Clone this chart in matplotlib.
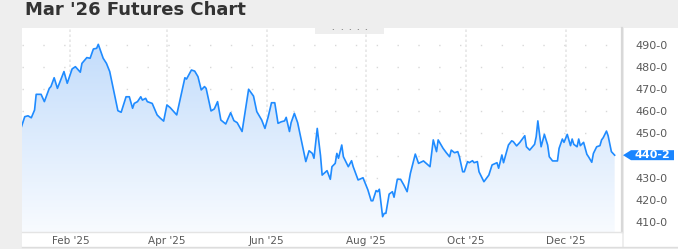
import matplotlib
matplotlib.use('Agg')
import matplotlib.pyplot as plt
import matplotlib.dates as mdates
from matplotlib.patches import Rectangle, Polygon
from matplotlib.colors import LinearSegmentedColormap
from matplotlib.ticker import FuncFormatter
import numpy as np
import pandas as pd

title = "Mar '26 Futures Chart"

# trading days (day of year 2025) and settle prices
day_of_year = [2, 4, 6, 8, 10, 11, 14, 16, 19, 20, 22, 24, 28, 30, 33, 35, 38, 39, 42, 44,
               46, 48, 49, 52, 54, 56, 59, 61, 63, 66, 68, 70, 71, 73, 75, 76, 78, 79, 82, 85,
               87, 89, 91, 93, 97, 99, 102, 103, 106, 108, 110, 112, 114, 115, 118, 120, 122, 124, 127, 130,
               132, 134, 137, 141, 144, 146, 149, 151, 153, 155, 157, 159, 161, 163, 164, 166, 167, 169, 171, 173,
               176, 178, 180, 181, 183, 185, 186, 189, 191, 192, 194, 195, 196, 198, 199, 202, 204, 205, 208, 211,
               214, 216, 217, 219, 220, 221, 223, 224, 225, 227, 229, 230, 232, 234, 236, 238, 240, 243, 245, 248,
               252, 254, 256, 257, 260, 262, 264, 265, 267, 269, 270, 272, 273, 275, 276, 278, 279, 281, 282, 285,
               288, 290, 293, 294, 296, 297, 300, 302, 303, 305, 307, 310, 311, 313, 316, 317, 318, 320, 322, 324,
               325, 327, 330, 331, 333, 334, 336, 338, 339, 340, 342, 343, 344, 346, 348, 349, 351, 352, 354, 356,
               357, 358, 360, 361, 363, 365]
price = [453.1, 457.6, 458.0, 457.1, 460.6, 467.7, 467.7, 464.4, 470.4, 471.2, 475.2, 470.4, 478.0, 472.7, 479.2, 480.2, 477.7, 481.7, 484.3, 484.0,
         488.2, 488.5, 490.3, 484.0, 481.7, 478.0, 467.4, 460.3, 459.6, 466.6, 466.6, 461.4, 463.6, 464.4, 466.6, 465.1, 465.9, 464.4, 463.6, 458.4,
         456.9, 455.6, 462.9, 461.7, 458.4, 465.1, 475.2, 474.6, 478.7, 478.2, 475.7, 469.7, 471.2, 470.4, 460.2, 461.1, 464.4, 456.1, 454.3, 459.4,
         455.8, 454.9, 450.9, 470.0, 466.9, 459.9, 456.1, 452.3, 457.6, 463.9, 463.9, 454.6, 455.3, 455.7, 457.3, 450.9, 454.9, 459.1, 454.9, 447.8,
         437.3, 442.2, 441.0, 438.8, 452.3, 440.0, 431.2, 433.2, 429.3, 435.0, 436.5, 441.0, 438.8, 444.8, 439.5, 435.0, 437.7, 435.0, 429.0, 430.0,
         424.5, 419.6, 419.6, 424.2, 423.7, 424.8, 412.4, 413.9, 413.9, 422.6, 423.7, 421.2, 429.3, 429.3, 426.7, 423.7, 432.0, 440.7, 436.5, 437.6,
         435.0, 447.1, 441.8, 447.1, 443.3, 441.3, 439.5, 442.5, 441.3, 441.8, 439.5, 432.7, 432.7, 437.3, 436.8, 437.7, 436.8, 437.3, 432.7, 428.2,
         431.2, 435.8, 436.8, 434.3, 440.3, 436.8, 444.8, 446.7, 446.3, 444.4, 446.0, 449.0, 444.0, 442.5, 445.1, 448.6, 455.7, 444.0, 449.6, 444.8,
         439.5, 437.6, 437.6, 443.3, 447.5, 446.0, 449.6, 444.5, 447.5, 445.1, 444.0, 447.5, 444.5, 446.0, 440.6, 439.5, 437.0, 441.0, 444.0, 444.5,
         447.1, 448.1, 451.1, 449.0, 441.8, 440.2]
last_label = '440-2'
y_ticks = [410, 420, 430, 440, 450, 460, 470, 480, 490]

W, H = 678, 249
fig = plt.figure(figsize=(W / 100, H / 100), dpi=100)
fig.patch.set_facecolor('#eeeeee')

def fr(x, y):
    # pixel (from top-left) -> figure fraction
    return x / W, 1 - y / H

# white panel + right label panel
x0, y0 = fr(22, 247)
fig.patches.append(Rectangle((x0, y0), (622 - 22) / W, (247 - 28) / H, transform=fig.transFigure,
                             facecolor='white', edgecolor='none', zorder=-2))
x0, y0 = fr(624, 247)
fig.patches.append(Rectangle((x0, y0), (678 - 624) / W, (247 - 28) / H, transform=fig.transFigure,
                             facecolor='white', edgecolor='none', zorder=-2))
# slider tab at top
x0, y0 = fr(315, 34)
fig.patches.append(Rectangle((x0, y0), 69 / W, 6 / H, transform=fig.transFigure,
                             facecolor='#eeeeee', edgecolor='none', zorder=5))
for dx in [333, 342, 350, 358, 366]:
    fig.text(*fr(dx, 30.5), '·', color='#888888', fontsize=5, ha='center', va='center',
             fontweight='bold', zorder=6)

fig.text(*fr(25, 10), title, fontsize=13, fontweight='bold', color='#333333',
         ha='left', va='center', family='DejaVu Sans')

ax = fig.add_axes([22 / W, 17 / H, 600 / W, 204 / H])
ax.set_facecolor('none')
ax.set_zorder(2)

dates = pd.Timestamp('2024-12-31') + pd.to_timedelta(day_of_year, unit='D')
xs = mdates.date2num(dates)
ax.plot(dates, price, color='#1f8bff', lw=1.2, zorder=3, solid_joinstyle='round')

ymin, ymax = 405.48, 497.68
xl0 = mdates.date2num(pd.Timestamp('2024-12-31') + pd.Timedelta(days=2.32))
xl1 = mdates.date2num(pd.Timestamp('2024-12-31') + pd.Timedelta(days=369.5))

# gradient fill under the line
verts = list(zip(xs, price)) + [(xs[-1], ymin), (xs[0], ymin)]
poly = Polygon(verts, closed=True, facecolor='none', edgecolor='none', transform=ax.transData)
ax.add_patch(poly)
cmap = LinearSegmentedColormap.from_list('fade', ['#f8fbff', '#c2dcfb'])
grad = np.linspace(1, 0, 256).reshape(-1, 1)
im = ax.imshow(grad, cmap=cmap, extent=[xs[0], xs[-1], ymin, 492], aspect='auto', zorder=2)
im.set_clip_path(poly)
ax.set_xlim(xl0, xl1)
ax.set_ylim(ymin, ymax)

ax.xaxis.set_major_locator(mdates.MonthLocator(bymonth=[2, 4, 6, 8, 10, 12]))
ax.xaxis.set_major_formatter(mdates.DateFormatter("%b '%y"))
ax.set_yticks(y_ticks)
# the 440 label sits under the last-price marker
ax.yaxis.set_major_formatter(FuncFormatter(lambda v, _: '' if v == 440 else f"{v:.0f}-0"))
ax.yaxis.tick_right()
ax.tick_params(axis='y', length=0, pad=10, labelsize=8, labelcolor='#5a5a5a')
ax.tick_params(axis='x', length=0, pad=3, labelsize=7.5, labelcolor='#5a5a5a')

ax.grid(axis='y', color='#d8d8d8', lw=1.0, linestyle=(0, (1, 14)))
ax.grid(axis='x', color='#e6e6e6', lw=1.2, linestyle=(0, (1.5, 1.5)))
ax.set_axisbelow(True)

for s in ['top', 'left']:
    ax.spines[s].set_visible(False)
ax.spines['right'].set_color('#d8d8d8')
ax.spines['right'].set_linewidth(1.6)
ax.spines['bottom'].set_color('#e4e4e4')
ax.spines['bottom'].set_linewidth(1.0)

# bottom border of the panel
fig.add_artist(plt.Line2D([22 / W, 1], [1 - 247 / H] * 2, transform=fig.transFigure,
                          color='#dddddd', lw=1))

# last price marker
yl = ax.transData.transform((xl0, price[-1]))[1] / fig.bbox.height
hh = 5 / H
tip = 623 / W
body = 631 / W
right = 674 / W
fig.add_artist(Polygon([(tip, yl), (body, yl + hh), (right, yl + hh), (right, yl - hh), (body, yl - hh)],
                       closed=True, transform=fig.transFigure, facecolor='#1a85ff',
                       edgecolor='none', zorder=5))
fig.text((body + right) / 2, yl, last_label, color='white', fontsize=8, fontweight='bold',
         ha='center', va='center', zorder=6)

fig.savefig('out.png', dpi=100, facecolor=fig.get_facecolor())
